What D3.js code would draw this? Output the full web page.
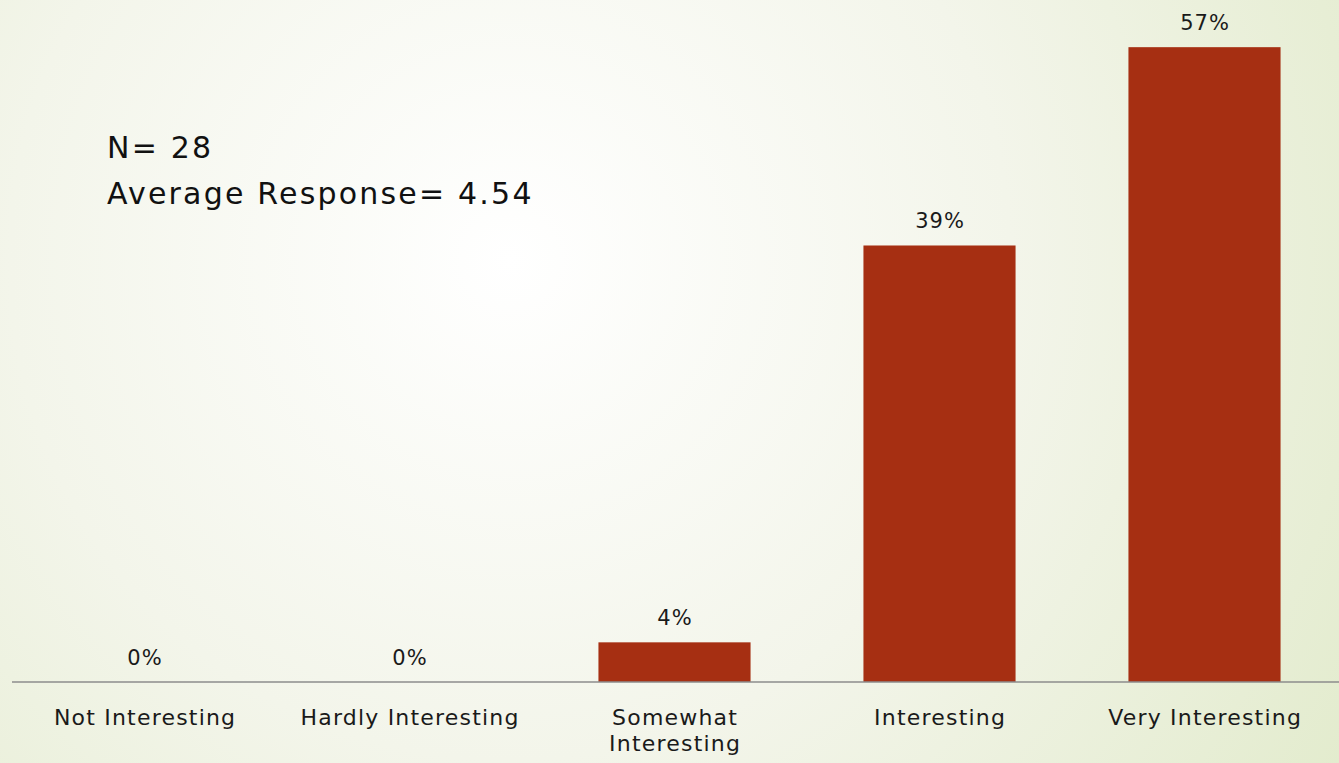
<!DOCTYPE html>
<html><head><meta charset="utf-8">
<script src="https://cdn.jsdelivr.net/npm/d3@7"></script>
<style>html,body{margin:0;padding:0;overflow:hidden;}</style>
</head><body>
<svg id="chart" width="1339" height="763"></svg>
<script>
const categories = ["Not Interesting", "Hardly Interesting", "Somewhat Interesting", "Interesting", "Very Interesting"];
const categoryLines = [["Not Interesting"], ["Hardly Interesting"], ["Somewhat", "Interesting"], ["Interesting"], ["Very Interesting"]];
const values = [0, 0, 3.57, 39.29, 57.14];
const valueLabels = ["0%", "0%", "4%", "39%", "57%"];
const noteLines = ["N= 28", "Average Response= 4.54"];

const W = 1339, H = 763;
const font = "'DejaVu Sans', sans-serif";
const svg = d3.select("#chart");
const defs = svg.append("defs");
const grad = defs.append("radialGradient").attr("id", "bg")
  .attr("gradientUnits", "userSpaceOnUse")
  .attr("cx", 510).attr("cy", 260).attr("r", 1000);
grad.append("stop").attr("offset", "0").attr("stop-color", "#ffffff");
grad.append("stop").attr("offset", "0.5").attr("stop-color", "#f3f5ea");
grad.append("stop").attr("offset", "1").attr("stop-color", "#e2ebcc");
svg.append("rect").attr("width", W).attr("height", H).attr("fill", "url(#bg)");

const baseY = 682;
const x = d3.scaleBand().domain(categories).range([12, 1337]).paddingInner(0.426).paddingOuter(0.213);
const y = d3.scaleLinear().domain([0, 60]).range([baseY, baseY - 60 * 11.11]);

svg.selectAll("rect.bar").data(values).enter().append("rect")
  .attr("class", "bar")
  .attr("x", (d, i) => x(categories[i]))
  .attr("width", x.bandwidth())
  .attr("y", d => y(d))
  .attr("height", d => baseY - y(d))
  .attr("fill", "#a62f12");

svg.append("line").attr("x1", 12).attr("x2", 1339).attr("y1", baseY).attr("y2", baseY)
  .attr("stroke", "#8c8c8c").attr("stroke-width", 1.5);

const cx = i => x(categories[i]) + x.bandwidth() / 2;

svg.selectAll("text.val").data(values).enter().append("text")
  .attr("class", "val")
  .attr("x", (d, i) => cx(i) + 0.5)
  .attr("y", d => y(d) - 17)
  .attr("text-anchor", "middle")
  .attr("font-family", font).attr("font-size", 21).attr("letter-spacing", 1).attr("fill", "#1a1a1a")
  .text((d, i) => valueLabels[i]);

categoryLines.forEach((lines, i) => {
  const t = svg.append("text")
    .attr("y", 725)
    .attr("text-anchor", "middle")
    .attr("font-family", font).attr("font-size", 22).attr("letter-spacing", 1.2).attr("fill", "#1a1a1a");
  lines.forEach((l, j) => t.append("tspan").attr("x", cx(i) + 0.6).attr("dy", j ? 26 : 0).text(l));
});

noteLines.forEach((l, j) => {
  svg.append("text").attr("x", 107).attr("y", 158 + j * 46)
    .attr("font-family", font).attr("font-size", 30).attr("letter-spacing", 2.2).attr("fill", "#111")
    .text(l);
});
</script>
</body></html>
